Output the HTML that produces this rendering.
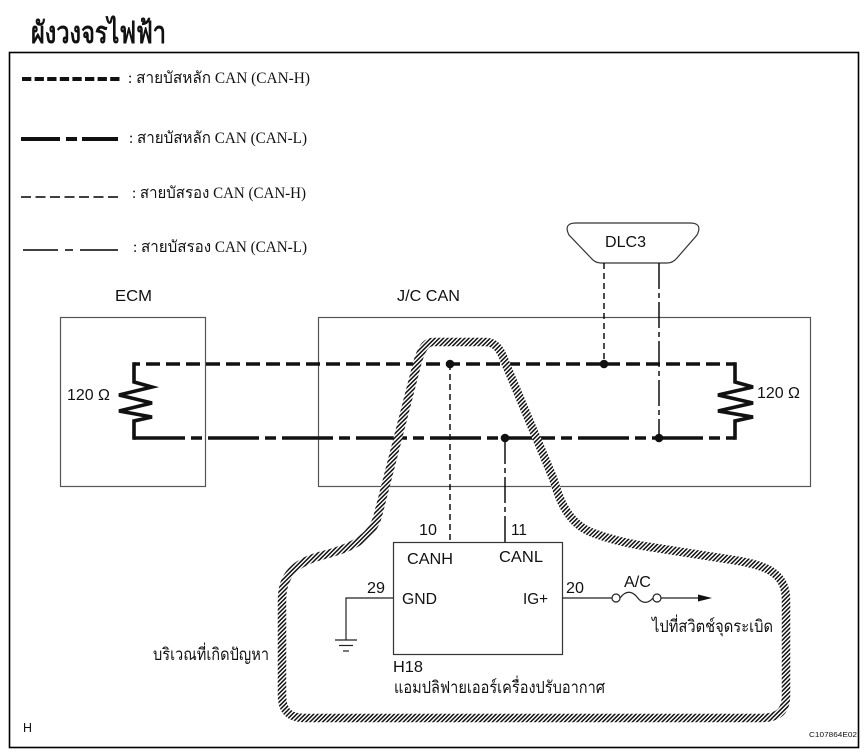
<!DOCTYPE html>
<html><head><meta charset="utf-8"><style>
html,body{margin:0;padding:0;background:#fff;}
svg{display:block;}
.a{font-family:"Liberation Sans",Arial,sans-serif;fill:#111;}
.t{font-family:"Liberation Serif","Noto Serif CJK SC",serif;fill:#111;}
</style></head><body>
<svg width="865" height="752" viewBox="0 0 865 752" xmlns="http://www.w3.org/2000/svg">
<defs>
<pattern id="hatch" patternUnits="userSpaceOnUse" width="3" height="3" patternTransform="rotate(45)">
<rect x="0" y="0" width="3" height="3" fill="#fff"/>
<rect x="0" y="0" width="1.5" height="3" fill="#111"/>
</pattern>
</defs>
<rect width="865" height="752" fill="#fff"/>
<!-- title -->
<text class="t" x="31" y="43" font-size="30" font-weight="bold" textLength="135" lengthAdjust="spacingAndGlyphs">ผังวงจรไฟฟ้า</text>
<!-- frame -->
<rect x="9.5" y="52.5" width="849" height="695" fill="none" stroke="#000" stroke-width="1.6"/>

<!-- legend -->
<line x1="22" y1="79" x2="121" y2="79" stroke="#111" stroke-width="4" stroke-dasharray="9.3 3.3"/>
<text class="t" x="128" y="83" font-size="16" textLength="182" lengthAdjust="spacingAndGlyphs">: สายบัสหลัก CAN (CAN-H)</text>
<line x1="21" y1="139" x2="118" y2="139" stroke="#111" stroke-width="4" stroke-dasharray="39 6 11 5 40"/>
<text class="t" x="129" y="143" font-size="16" textLength="178" lengthAdjust="spacingAndGlyphs">: สายบัสหลัก CAN (CAN-L)</text>
<line x1="21" y1="197" x2="118" y2="197" stroke="#000" stroke-width="1.4" stroke-dasharray="10 4.5"/>
<text class="t" x="132" y="198" font-size="16" textLength="174" lengthAdjust="spacingAndGlyphs">: สายบัสรอง CAN (CAN-H)</text>
<line x1="23" y1="250" x2="118" y2="250" stroke="#000" stroke-width="1.4" stroke-dasharray="35 7 8 7 40"/>
<text class="t" x="133" y="252" font-size="16" textLength="174" lengthAdjust="spacingAndGlyphs">: สายบัสรอง CAN (CAN-L)</text>

<!-- boxes -->
<rect x="60.5" y="317.5" width="145" height="169" fill="none" stroke="#555" stroke-width="1.2"/>
<rect x="318.5" y="317.5" width="492" height="169" fill="none" stroke="#555" stroke-width="1.2"/>
<text class="a" x="115" y="301" font-size="15.5" textLength="37" lengthAdjust="spacingAndGlyphs">ECM</text>
<text class="a" x="397" y="301" font-size="15.5" textLength="63" lengthAdjust="spacingAndGlyphs">J/C CAN</text>

<!-- DLC3 -->
<path d="M576 223 L690 223 Q703 223 697 235 L677 258 Q673 263 667 263 L601 263 Q595 263 591 258 L569 235 Q563 223 576 223 Z" fill="#fff" stroke="#333" stroke-width="1.2"/>
<text class="a" x="605" y="247" font-size="15.5" textLength="41" lengthAdjust="spacingAndGlyphs">DLC3</text>

<!-- thin branch lines -->
<line x1="604" y1="263" x2="604" y2="364" stroke="#000" stroke-width="1.4" stroke-dasharray="6 4"/>
<line x1="659" y1="263" x2="659" y2="438" stroke="#000" stroke-width="1.4" stroke-dasharray="26 4 5 4"/>
<line x1="450" y1="364" x2="450" y2="542" stroke="#000" stroke-width="1.4" stroke-dasharray="6 4"/>
<line x1="505" y1="438" x2="505" y2="542" stroke="#000" stroke-width="1.4" stroke-dasharray="26 4 5 4"/>

<!-- main CAN lines -->
<line x1="134" y1="364" x2="735" y2="364" stroke="#111" stroke-width="3.6" stroke-dasharray="14 6" stroke-dashoffset="8"/>
<line x1="134" y1="438" x2="735" y2="438" stroke="#111" stroke-width="3.6" stroke-dasharray="51 6 11 6"/>
<!-- resistors -->
<polyline points="134,362.2 134,382 152,387 119,395 152,403 119,411 152,417 134,421 134,439.8" fill="none" stroke="#111" stroke-width="3.6" stroke-linejoin="miter"/>
<polyline points="735,362.2 735,382 753,387 718,395 753,403 718,411 753,417 735,421 735,439.8" fill="none" stroke="#111" stroke-width="3.6" stroke-linejoin="miter"/>
<text class="a" x="67" y="400" font-size="15.5" textLength="43" lengthAdjust="spacingAndGlyphs">120 Ω</text>
<text class="a" x="757" y="398" font-size="15.5" textLength="43" lengthAdjust="spacingAndGlyphs">120 Ω</text>

<!-- dots -->
<circle cx="450" cy="364" r="4.3" fill="#111"/>
<circle cx="604" cy="364" r="4.3" fill="#111"/>
<circle cx="505" cy="438" r="4.3" fill="#111"/>
<circle cx="659" cy="438" r="4.3" fill="#111"/>

<!-- H18 box -->
<rect x="393.5" y="542.5" width="169" height="112" fill="none" stroke="#333" stroke-width="1.2"/>
<text class="a" x="419" y="535" font-size="15.5" textLength="18" lengthAdjust="spacingAndGlyphs">10</text>
<text class="a" x="511" y="535" font-size="15.5" textLength="16" lengthAdjust="spacingAndGlyphs">11</text>
<text class="a" x="407" y="564" font-size="15.5" textLength="46" lengthAdjust="spacingAndGlyphs">CANH</text>
<text class="a" x="499" y="562" font-size="15.5" textLength="44" lengthAdjust="spacingAndGlyphs">CANL</text>
<text class="a" x="367" y="593" font-size="15.5" textLength="18" lengthAdjust="spacingAndGlyphs">29</text>
<text class="a" x="402" y="604" font-size="15.5" textLength="35" lengthAdjust="spacingAndGlyphs">GND</text>
<text class="a" x="523" y="604" font-size="15.5" textLength="25" lengthAdjust="spacingAndGlyphs">IG+</text>
<text class="a" x="566" y="593" font-size="15.5" textLength="18" lengthAdjust="spacingAndGlyphs">20</text>
<text class="a" x="393" y="672" font-size="15.5" textLength="30" lengthAdjust="spacingAndGlyphs">H18</text>
<text class="t" x="394" y="693" font-size="17" textLength="211" lengthAdjust="spacingAndGlyphs">แอมปลิฟายเออร์เครื่องปรับอากาศ</text>

<!-- ground -->
<polyline points="393,598 346,598 346,640" fill="none" stroke="#222" stroke-width="1.2"/>
<line x1="335" y1="640" x2="357" y2="640" stroke="#222" stroke-width="1.2"/>
<line x1="339" y1="645.5" x2="353" y2="645.5" stroke="#222" stroke-width="1.2"/>
<line x1="343" y1="651" x2="349" y2="651" stroke="#222" stroke-width="1.2"/>

<!-- IG+ fuse and arrow -->
<line x1="562" y1="598" x2="612" y2="598" stroke="#222" stroke-width="1.2"/>
<circle cx="616" cy="598" r="4" fill="#fff" stroke="#222" stroke-width="1.2"/>
<circle cx="657" cy="598" r="4" fill="#fff" stroke="#222" stroke-width="1.2"/>
<path d="M620 598 C626 590 632 591 637 597 C642 604 648 604 653 598" fill="none" stroke="#222" stroke-width="1.2"/>
<line x1="661" y1="598" x2="700" y2="598" stroke="#222" stroke-width="1.2"/>
<polygon points="698,594.5 712,598 698,601.5" fill="#111"/>
<text class="a" x="624" y="587" font-size="15.5" textLength="27" lengthAdjust="spacingAndGlyphs">A/C</text>
<text class="t" x="652" y="632" font-size="17" textLength="121" lengthAdjust="spacingAndGlyphs">ไปที่สวิตช์จุดระเบิด</text>

<!-- problem area hatched loop -->
<path d="M433 342 L485 342 C496 342 501 350 505 362 L553 478 C559 497 566 523 593 533 C612 540 630 544 650 547 L733 560 C765 565 786 572 786 600 L786 695 C786 712 778 718 760 718 L305 718 C290 718 282 712 282 695 L282 600 C282 575 295 563 320 556 C348 549 372 540 378 515 L417 364 C421 350 425 342 433 342 Z" fill="none" stroke="url(#hatch)" stroke-width="8.5"/>
<text class="t" x="153" y="660" font-size="17" textLength="116" lengthAdjust="spacingAndGlyphs">บริเวณที่เกิดปัญหา</text>

<!-- corner labels -->
<text class="a" x="23" y="732" font-size="13" textLength="9" lengthAdjust="spacingAndGlyphs">H</text>
<text class="a" x="809" y="737" font-size="7.5" textLength="48" lengthAdjust="spacingAndGlyphs">C107864E02</text>
</svg>
</body></html>
